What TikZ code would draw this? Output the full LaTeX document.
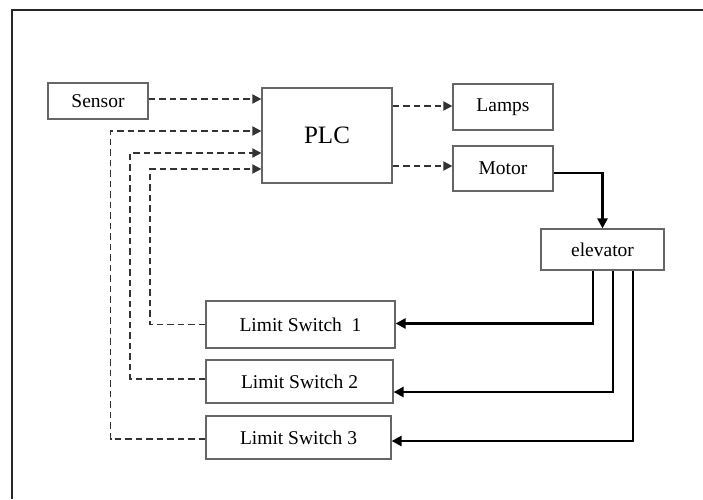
\documentclass[tikz,border=0pt]{standalone}
\usepackage{fontspec}
\setmainfont{Liberation Serif}
\usetikzlibrary{arrows.meta,calc}
\begin{document}
\begin{tikzpicture}[x=1pt,y=-1pt,
  blk/.style={draw=black!60,line width=1.2pt,inner sep=0pt,fill=white,
    font=\fontsize{19.5}{22}\selectfont},
  dasharrow/.style={draw=black!80,line width=1.8pt,dash pattern=on 6.5pt off 4pt,
    -{Triangle[length=9pt,width=9pt]}},
  solidarrow/.style={draw=black,line width=2.8pt,
    -{Triangle[length=10pt,width=10pt]}}]
\useasboundingbox (0,0) rectangle (703,499);
% frame
\draw[line width=2.2pt,black!85] (12,499) -- (12,10) -- (704,10);
% blocks
\node[blk,minimum width=100pt,minimum height=36pt] (sensor) at (98,101) {Sensor};
\node[blk,minimum width=130pt,minimum height=95pt,font=\fontsize{25}{28}\selectfont] (plc) at (327,135.5) {PLC};
\node[blk,minimum width=100pt,minimum height=46pt] (lamps) at (503,107) {Lamps};
\node[blk,minimum width=100pt,minimum height=45pt] (motor) at (503,168.5) {Motor};
\node[blk,minimum width=123pt,minimum height=41pt] (elev) at (602.5,249.5) {elevator};
\node[blk,minimum width=189pt,minimum height=47pt] (ls1) at (300.5,324.5) {Limit Switch~~1};
\node[blk,minimum width=187pt,minimum height=43pt] (ls2) at (299.5,381.5) {Limit Switch 2};
\node[blk,minimum width=185pt,minimum height=43pt] (ls3) at (298.5,437.5) {Limit Switch 3};
% dashed signals
\draw[dasharrow] ($(sensor.east)+(0,-2)$) -- ($(plc.west)+(0,-36.5)$);
\draw[dasharrow] ($(plc.east)+(0,-29.5)$) -- ($(lamps.west)+(0,-1)$);
\draw[dasharrow] ($(plc.east)+(0,30.5)$) -- ($(motor.west)+(0,-2.5)$);
\draw[dasharrow] (ls1.west) -- (150,324.5) |- ($(plc.west)+(0,33.5)$);
\draw[dasharrow] ($(ls2.west)+(0,-2.5)$) -- (130,379) |- ($(plc.west)+(0,17.5)$);
\draw[dasharrow] ($(ls3.west)+(0,1.5)$) -- (110.5,439) |- ($(plc.west)+(0,-4.5)$);
% solid connections
\draw[solidarrow] ($(motor.east)+(0,4.5)$) -| (elev.north);
\draw[solidarrow] ($(elev.south)+(-9.5,0)$) |- ($(ls1.east)+(0,-1)$);
\draw[solidarrow] ($(elev.south)+(10.5,0)$) |- ($(ls2.east)+(0,10.5)$);
\draw[solidarrow] ($(elev.south)+(30.5,0)$) |- ($(ls3.east)+(0,3.5)$);
\end{tikzpicture}
\end{document}
